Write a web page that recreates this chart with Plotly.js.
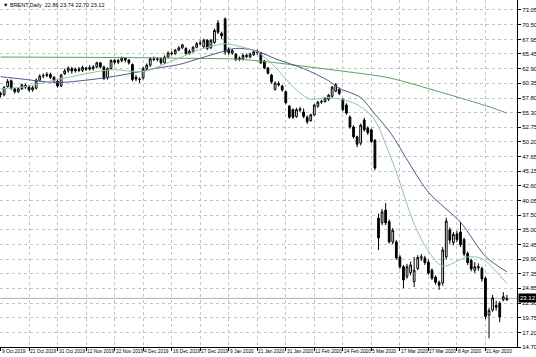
<!DOCTYPE html>
<html><head><meta charset="utf-8">
<script src="https://cdn.plot.ly/plotly-3.0.1.min.js"></script>
<style>html,body{margin:0;padding:0;background:#fff}#chart{width:536px;height:357px}</style>
</head><body><div id="chart"></div>
<script>
// ---- data ----
const symbol = "BRENT,Daily";
const open  = [58.6,58.4,59.8,60.8,59.4,58.9,59.4,60.0,59.7,59.2,59.5,60.9,61.6,61.7,61.9,61.4,60.7,59.9,62.0,62.5,62.9,62.5,62.8,62.6,63.0,62.8,62.9,63.2,63.9,63.2,61.3,62.9,64.3,64.0,64.3,64.7,64.4,63.6,61.4,61.1,61.3,62.9,63.5,64.6,64.5,64.6,63.9,64.9,65.6,65.5,66.1,66.5,66.4,65.5,65.9,66.6,67.2,66.7,67.8,66.5,67.4,70.8,69.0,71.5,66.3,65.6,65.4,64.5,64.6,65.2,64.9,65.3,65.8,65.6,64.2,63.0,61.8,59.3,60.3,59.9,58.9,56.4,55.8,54.6,55.7,55.4,54.5,53.9,54.9,56.4,57.1,57.2,57.6,58.1,59.0,59.3,57.5,56.6,54.5,52.8,51.1,50.0,54.0,52.6,52.3,50.5,37.0,36.2,38.4,36.4,32.9,32.9,30.3,28.6,26.9,27.6,26.0,28.3,30.1,30.1,29.4,28.0,26.8,25.9,25.8,30.3,35.0,32.8,34.3,34.6,33.3,30.9,29.7,28.0,28.4,28.3,26.6,20.2,21.1,21.9,22.3,22.9,22.86];
const high  = [58.9,59.9,61.1,61.0,59.6,59.7,60.3,60.3,60.0,59.9,61.2,61.9,62.1,62.3,62.2,61.6,61.0,62.0,62.9,63.3,63.2,63.1,63.2,63.4,63.2,63.5,63.5,64.1,64.0,63.4,63.1,64.5,64.6,64.6,65.0,64.9,64.5,63.8,61.8,61.4,63.2,63.8,64.9,65.0,64.9,64.9,65.2,65.9,65.9,66.3,66.8,67.2,66.6,66.2,66.8,67.5,67.8,68.1,68.0,68.0,69.8,71.3,69.3,71.75,66.6,66.3,65.6,65.0,65.5,65.5,65.7,66.1,66.2,65.8,64.4,63.2,62.0,60.7,60.7,60.1,59.1,56.6,56.0,56.1,56.3,56.0,54.8,55.1,56.8,57.3,57.5,58.0,58.5,59.9,60.4,59.6,57.8,56.9,54.8,53.1,51.3,53.4,54.4,52.9,52.5,50.7,37.8,38.6,39.6,36.8,35.3,33.2,30.6,28.9,29.1,29.5,30.3,30.6,30.8,30.5,29.8,28.3,27.1,26.2,32.0,37.1,35.4,34.6,34.8,36.4,33.6,31.2,30.0,29.4,29.2,28.6,26.9,21.5,23.7,22.7,22.6,24.2,23.74];
const low   = [57.9,58.1,59.6,59.2,58.6,58.7,59.2,59.4,58.9,58.9,59.3,60.7,61.2,61.4,61.1,60.5,59.6,59.7,61.8,62.2,62.0,62.2,62.3,62.3,62.5,62.6,62.6,63.0,62.9,60.9,61.0,62.7,63.6,63.7,64.0,64.0,63.6,60.7,60.7,60.4,61.0,62.6,63.2,64.2,64.1,63.6,63.7,64.7,65.2,65.3,65.9,66.3,65.3,65.3,65.7,66.4,66.9,66.5,66.1,66.3,67.2,68.9,68.0,65.3,65.3,65.3,64.2,64.2,64.3,64.7,64.7,65.1,65.3,63.7,62.8,61.9,60.3,59.1,59.8,58.9,56.7,54.2,54.2,54.4,55.4,54.3,53.3,53.7,54.7,56.1,56.8,57.0,57.3,57.9,58.8,58.3,55.5,54.9,52.5,50.8,49.3,49.6,52.0,51.4,50.0,45.3,31.5,35.8,35.8,32.6,32.5,29.8,28.2,24.9,26.5,27.1,25.1,28.0,29.6,28.9,27.2,26.3,25.5,24.6,25.3,29.9,32.5,32.3,32.9,32.0,30.4,28.9,27.8,27.5,27.9,26.0,19.5,16.2,20.8,21.0,19.0,22.6,22.70];
const close = [58.4,59.6,60.7,59.5,58.9,59.4,60.1,59.7,59.2,59.6,60.9,61.6,61.7,61.9,61.4,60.8,59.9,61.8,62.5,63.0,62.5,62.8,62.6,63.1,62.8,63.1,63.2,63.9,63.2,61.2,62.9,64.3,64.0,64.3,64.7,64.4,63.9,61.0,61.1,61.0,62.9,63.5,64.6,64.5,64.6,63.9,64.9,65.6,65.5,66.1,66.5,67.0,65.5,65.9,66.6,67.2,67.3,67.8,66.4,67.8,69.5,69.2,68.6,65.8,65.7,66.0,64.5,64.7,65.2,65.0,65.4,65.8,65.7,63.9,63.0,62.1,60.6,60.4,60.1,59.2,57.0,54.5,54.5,55.8,55.9,54.6,53.7,54.9,56.6,57.1,57.2,57.8,58.3,59.7,60.1,58.6,55.8,55.2,52.8,51.1,49.8,53.1,52.3,51.8,50.3,45.7,33.6,38.1,36.2,32.9,34.9,30.1,28.6,26.3,28.6,28.9,28.0,30.2,30.3,29.3,27.5,26.6,25.9,25.4,31.5,36.5,33.2,34.2,33.3,32.4,30.8,29.3,28.2,28.6,28.6,26.5,20.0,21.0,23.2,21.6,19.9,23.4,23.12];

// moving averages (bar index -> price)
const maSlowIdx = [0,37,50,66,76,85,98,109,123,137,142];
const maSlowVal = [64.9,64.8,64.7,64.55,64.0,63.3,62.3,61.3,58.9,56.3,55.2];
const maMidIdx  = [0,6,16,28,36,44,50,56,62,66,71,78,85,92,95,101,105,109,120,129,136,142];
const maMidVal  = [61.5,61.1,60.5,61.2,62.0,63.0,63.6,64.7,65.8,66.4,66.1,64.4,62.9,60.8,59.5,57.9,55.0,52.1,41.5,36.3,30.4,27.7];
const maFastIdx = [0,6,19,31,40,48,56,63,68,72,76,83,87,92,98,101,104,106,109,111,116,120,124,131,135,142];
const maFastVal = [59.4,59.7,61.4,62.7,62.4,64.2,66.2,67.2,66.6,65.8,63.8,59.2,57.6,57.9,57.2,56.3,54.8,52.8,48.2,45.0,36.0,31.3,28.7,30.3,30.0,25.7];

// axis labels
const dateTickIdx = [0,8,16,24,32,40,48,56,64,72,80,88,96,104,112,120,128,136];
const dateTickText = ["9 Oct 2019","21 Oct 2019","31 Oct 2019","12 Nov 2019","22 Nov 2019","4 Dec 2019","16 Dec 2019","27 Dec 2019","9 Jan 2020","21 Jan 2020","31 Jan 2020","12 Feb 2020","24 Feb 2020","5 Mar 2020","17 Mar 2020","27 Mar 2020","8 Apr 2020","21 Apr 2020"];
const priceTicks = [73.05,70.50,67.95,65.45,62.90,60.35,57.80,55.30,52.75,50.20,47.65,45.15,42.60,40.05,37.50,35.00,32.45,29.90,27.35,24.85,22.30,19.75,17.20,14.70];

// ---- chart ----
const xIdx = close.map((_, i) => i);
const n = close.length;
const last = n - 1;
const font = "Liberation Sans, Arial, sans-serif";

const traces = [
  {type:'scatter', mode:'lines', x:maSlowIdx, y:maSlowVal, line:{color:'#5e9e5e', width:1, shape:'spline', smoothing:0.8}, hoverinfo:'skip', showlegend:false},
  {type:'scatter', mode:'lines', x:maMidIdx, y:maMidVal, line:{color:'#55558f', width:1, shape:'spline', smoothing:0.8}, hoverinfo:'skip', showlegend:false},
  {type:'scatter', mode:'lines', x:maFastIdx, y:maFastVal, line:{color:'#8fc4a0', width:1, shape:'spline', smoothing:0.8}, hoverinfo:'skip', showlegend:false},
  {type:'candlestick', x:xIdx, open:open, high:high, low:low, close:close,
   increasing:{line:{color:'#000', width:1}, fillcolor:'#ffffff'},
   decreasing:{line:{color:'#000', width:1}, fillcolor:'#000000'},
   whiskerwidth:0, hoverinfo:'skip', showlegend:false}
];

const annotations = dateTickText.map((t, k) => ({
  x: dateTickIdx[k], xref:'x', y:0, yref:'paper', xanchor:'left', yanchor:'top',
  text:t, showarrow:false, font:{family:font, size:4.8, color:'#000'}, borderpad:0, yshift:-1, xshift:0
}));
annotations.push({
  x:0, xref:'paper', y:1, yref:'paper', xanchor:'left', yanchor:'top', showarrow:false,
  text:'\u25BC ' + symbol + '  ' + [open[last], high[last], low[last], close[last]].map(v => v.toFixed(2)).join(' '),
  font:{family:font, size:5.5, color:'#000'}, xshift:2, yshift:-1, borderpad:0
});
annotations.push({
  x:1, xref:'paper', y:close[last], yref:'y', xanchor:'left', yanchor:'middle', showarrow:false,
  text:close[last].toFixed(2), bgcolor:'#000', font:{family:font, size:6, color:'#fff'}, borderpad:1, xshift:1
});

const layout = {
  width:536, height:357,
  margin:{l:0, r:19, t:0, b:10, pad:0},
  paper_bgcolor:'#fff', plot_bgcolor:'#fff',
  showlegend:false,
  boxgap:0.3,
  xaxis:{
    type:'linear', range:[-0.14, 144.84], fixedrange:true,
    rangeslider:{visible:false},
    tickmode:'array', tickvals:dateTickIdx, showticklabels:false,
    ticks:'outside', ticklen:3, tickcolor:'#000', tickwidth:1,
    showgrid:true, gridcolor:'#c4c4c4', griddash:'dot', gridwidth:1,
    showline:true, linecolor:'#000', linewidth:1, mirror:true, zeroline:false
  },
  yaxis:{
    side:'right', range:[14.70, 74.78], fixedrange:true,
    tickmode:'array', tickvals:priceTicks, ticktext:priceTicks.map(v => v.toFixed(2)),
    ticks:'outside', ticklen:3, tickcolor:'#000', tickwidth:1,
    tickfont:{family:font, size:6, color:'#000'},
    showgrid:true, gridcolor:'#c4c4c4', griddash:'dot', gridwidth:1,
    showline:true, linecolor:'#000', linewidth:1, mirror:true, zeroline:false
  },
  shapes:[{type:'line', xref:'paper', x0:0, x1:1, yref:'y', y0:close[last], y1:close[last], line:{color:'#b0b0b0', width:1}, layer:'below'}],
  annotations:annotations
};

Plotly.newPlot('chart', traces, layout, {staticPlot:true, displayModeBar:false});
</script>
</body></html>
